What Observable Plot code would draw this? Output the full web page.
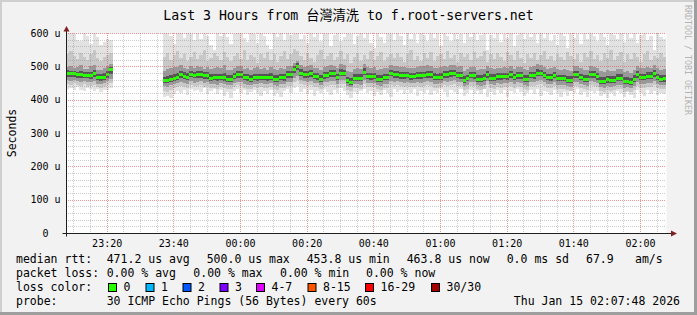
<!DOCTYPE html>
<html><head><meta charset="utf-8">
<script src="https://cdn.jsdelivr.net/npm/d3@7"></script>
<script src="https://cdn.jsdelivr.net/npm/@observablehq/plot@0.6"></script>
<style>
html,body{margin:0;padding:0;background:#f2f2f2;}
#wrap{width:697px;height:315px;}
</style>
</head><body><div id="wrap"></div>
<script>
// ---------- data (one value per minute, 180 minutes, gap = no data) ----------
const startTime = Date.UTC(2026,0,14,23,7,48);
const endTime   = Date.UTC(2026,0,15,2,7,48);
const minutes = 180;

const median = [479,479,479,476,476,475,474,474,479,467,467,469,477,491,
null,null,null,null,null,null,null,null,null,null,null,null,null,null,null,
459,459,463,466,469,476,472,469,477,474,
476,476,473,473,466,468,468,468,468,463,
463,471,476,476,468,468,463,468,468,468,
468,468,468,463,463,468,468,476,476,491,
500,481,476,476,479,471,471,463,474,474,
479,479,468,481,481,459,453.8,466,466,466,
484,471,471,471,463,463,468,468,480,476,
476,473,473,473,470,470,473,473,473,476,
476,469,469,469,476,476,480,480,474,474,
459,465,474,474,463,463,466,476,466,466,
470,470,470,470,477,468,473,473,463,463,
474,474,481,481,474,468,468,474,465,465,
465,460,460,476,476,468,463,463,476,476,
470,457,457,461,460,460,466,466,457,457,
454,463,476,468,468,472,472,479,468,463,
463.8];

const smokeMax = [612,605,598,580,577,606,592,568,603,588,563,572,581,578,
null,null,null,null,null,null,null,null,null,null,null,null,null,null,null,
615,603,590,568,610,601,585,606,597,578,
604,583,609,590,563,548,604,592,620,588,
566,598,607,611,586,574,601,596,570,606,
592,563,552,610,587,604,579,601,595,612,
605,582,594,570,603,589,616,577,596,608,
560,593,604,575,587,611,598,566,592,600,
584,607,571,555,612,588,569,603,597,578,
605,590,564,609,583,598,571,603,594,577,
612,586,599,562,604,591,575,607,583,598,
569,602,588,611,579,595,606,550,593,584,
610,573,598,586,603,562,594,608,581,597,
588,606,570,599,584,612,577,595,563,603,
590,556,609,586,597,568,604,583,611,592,
576,600,587,565,605,594,581,610,572,598,
586,603,569,595,611,578,592,548,601,588,
583];

const smokeHi2 = [538,545,530,522,541,527,519,536,548,525,516,529,533,540,
null,null,null,null,null,null,null,null,null,null,null,null,null,null,null,
528,541,519,533,546,524,537,515,529,543,
521,535,548,517,526,539,531,520,544,527,
516,532,540,523,549,518,534,527,511,538,
525,543,520,536,514,530,547,522,538,552,
545,531,519,540,526,513,535,548,521,532,
540,518,528,545,523,536,510,529,541,517,
534,522,546,519,531,543,516,527,538,524,
541,529,513,536,548,520,532,517,539,526,
544,515,530,537,521,546,524,533,512,540,
527,538,519,543,525,531,547,514,536,522,
539,528,516,542,533,520,545,524,511,537,
526,541,518,535,547,523,530,515,538,527,
519,544,532,521,536,512,540,528,546,523,
533,517,539,525,548,520,531,543,514,536,
522,540,529,513,537,545,518,532,524,539,
527];

const smokeHi1 = [497,502,494,499,505,493,491,500,503,490,488,495,501,508,
null,null,null,null,null,null,null,null,null,null,null,null,null,null,null,
486,492,495,499,497,503,494,491,500,496,
502,498,493,497,491,495,499,494,503,490,
489,496,501,500,492,494,488,495,497,493,
496,490,498,492,489,495,493,500,502,510,
515,504,499,501,503,496,494,488,499,502,
505,500,496,506,504,485,483,492,495,491,
507,498,495,497,490,493,496,494,503,500,
501,497,499,495,494,496,498,500,501,503,
500,495,494,497,502,499,505,503,498,500,
487,491,499,497,490,491,493,501,495,492,
496,494,497,495,502,493,499,497,491,490,
498,500,506,505,498,493,495,499,491,490,
492,488,487,500,501,494,490,489,501,499,
496,485,484,488,487,486,492,491,484,485,
481,490,501,494,495,497,496,503,494,490,
491];

const smokeHi0 = [488,487,486,484,485,483,482,484,488,478,477,479,486,499,
null,null,null,null,null,null,null,null,null,null,null,null,null,null,null,
469,470,473,476,479,485,482,479,487,484,
486,485,482,483,476,478,478,477,479,473,
474,480,486,485,477,478,473,478,477,478,
478,477,479,473,474,478,477,486,486,501,
510,491,486,485,489,481,480,474,483,484,
489,488,478,491,490,469,465,476,477,476,
494,481,480,481,474,473,478,477,490,486,
486,483,482,483,480,480,483,482,484,486,
486,479,478,479,486,485,490,489,484,483,
470,475,484,483,473,474,476,486,477,476,
480,479,480,480,487,478,483,482,474,473,
484,483,491,490,484,478,477,484,475,475,
475,470,470,486,485,478,473,474,486,485,
480,467,468,471,470,470,476,476,467,467,
464,473,486,478,477,482,482,489,478,473,
474];

const smokeLo0 = [468,469,468,466,465,465,464,463,468,458,457,459,466,478,
null,null,null,null,null,null,null,null,null,null,null,null,null,null,null,
450,449,453,456,458,465,461,459,467,464,
465,466,463,462,456,458,457,458,456,454,
453,461,466,465,458,457,454,458,457,459,
458,457,459,454,453,458,457,465,466,480,
489,471,466,465,469,461,460,454,463,464,
469,468,459,471,470,450,445,456,457,456,
473,461,460,461,454,453,459,458,470,465,
466,463,462,464,460,461,463,462,464,466,
465,459,458,460,466,465,469,470,464,463,
450,455,464,463,454,453,456,466,457,456,
460,459,461,460,466,459,463,462,454,453,
464,463,470,471,464,458,457,464,455,455,
455,451,450,466,465,458,454,453,466,465,
460,448,447,451,450,451,456,455,447,448,
445,453,466,458,459,462,461,469,458,454,
454];

const smokeLo1 = [458,456,459,455,452,457,454,453,456,448,446,450,455,462,
null,null,null,null,null,null,null,null,null,null,null,null,null,null,null,
441,438,444,447,449,452,450,448,455,451,
453,455,450,452,446,448,445,449,447,443,
444,450,454,453,447,445,444,448,446,449,
447,446,449,443,442,448,446,454,453,466,
472,459,455,453,457,450,449,443,452,453,
456,457,448,458,459,440,437,446,447,445,
460,450,449,451,443,442,448,447,457,453,
455,452,450,453,449,451,452,451,453,455,
453,448,447,449,455,453,457,459,452,452,
440,444,452,452,443,442,445,455,446,445,
449,448,450,449,454,448,452,451,443,442,
452,452,457,459,452,447,446,452,444,444,
444,440,439,454,453,447,443,442,455,453,
449,437,436,440,439,440,445,444,436,437,
434,442,454,447,448,451,450,457,447,443,
443];

const smokeLo2 = [447,444,449,443,440,446,442,441,445,437,435,439,443,450,
null,null,null,null,null,null,null,null,null,null,null,null,null,null,null,
425,422,430,434,437,440,438,436,443,440,
441,444,438,441,434,436,433,438,435,431,
432,439,443,441,435,433,432,437,434,438,
435,434,437,431,430,436,434,442,441,452,
458,447,443,441,445,438,437,431,440,441,
444,445,436,446,447,428,425,434,435,433,
448,438,437,439,431,430,436,435,445,441,
443,440,438,441,437,439,440,439,441,443,
441,436,435,437,443,441,445,447,440,440,
428,432,440,440,431,430,433,443,434,433,
437,436,438,437,442,436,440,439,431,430,
440,440,445,447,440,435,434,440,432,432,
432,428,427,442,441,435,431,430,443,441,
437,425,424,428,427,428,433,432,424,425,
422,430,442,435,436,439,438,445,435,431,
431];

const smokeMin = [432,436,429,438,430,425,434,431,427,433,422,428,430,436,
null,null,null,null,null,null,null,null,null,null,null,null,null,null,null,
408,412,405,418,426,421,429,414,432,427,
430,422,435,418,425,431,416,428,411,422,
406,427,433,420,428,414,424,430,419,412,
426,418,429,412,421,408,425,431,419,434,
440,423,431,416,428,410,427,419,432,424,
413,429,421,434,425,415,404,422,417,426,
431,419,427,411,424,415,428,420,409,433,
423,430,416,428,419,432,410,426,421,429,
414,427,419,431,422,408,429,424,417,432,
412,420,428,416,425,418,431,409,423,415,
428,421,430,407,426,419,433,424,412,420,
429,418,431,410,427,422,414,429,419,407,
424,412,429,420,431,413,424,408,427,419,
425,410,416,404,421,412,426,419,408,422,
415,406,429,420,411,428,417,426,413,421,
418];

// axis ticks / labels
const yTicks = [0,100,200,300,400,500,600];
const yMinor = [20,40,60,80,120,140,160,180,220,240,260,280,320,340,360,380,420,440,460,480,520,540,560,580];
const titleText = "Last 3 Hours from 台灣清洗 to f.root-servers.net";
const yLabelText = "Seconds";
const rttStats = ["471.2 us avg","500.0 us max","453.8 us min","463.8 us now","0.0 ms sd","67.9","am/s"];
const lossStats = ["0.00 % avg","0.00 % max","0.00 % min","0.00 % now"];
const lossLabels = ["0","1","2","3","4-7","8-15","16-29","30/30"];
const lossColors = ["#26ff00","#00b8ff","#0059ff","#7e00ff","#dd00ff","#ff5500","#ff0000","#a10000"];
const probeText = "30 ICMP Echo Pings (56 Bytes) every 60s";
const dateText = "Thu Jan 15 02:07:48 2026";
const watermark = "RRDTOOL / TOBI OETIKER";

// ---------- build rows ----------
const rows = [];
for (let i = 0; i < minutes; i++) {
  if (median[i] == null) continue;
  rows.push({
    t0: new Date(startTime + i*60000), t1: new Date(startTime + (i+1)*60000),
    med: median[i], max: smokeMax[i], hi2: smokeHi2[i], hi1: smokeHi1[i], hi0: smokeHi0[i],
    lo0: smokeLo0[i], lo1: smokeLo1[i], lo2: smokeLo2[i], min: smokeMin[i]
  });
}
const xMajor = d3.utcMinute.every(20).range(new Date(startTime), new Date(endTime));
const xMinor = d3.utcMinute.every(5).range(new Date(startTime), new Date(endTime)).filter(d => d.getUTCMinutes() % 20 !== 0);

const FONT = '"DejaVu Sans Mono","Noto Sans CJK TC",monospace';
const rectOpts = {x1:"t0", x2:"t1", clip:true, shapeRendering:"crispEdges"};
const gridOpts = {strokeDasharray:"1,1", shapeRendering:"crispEdges"};

const chart = Plot.plot({
  width: 697, height: 315,
  marginLeft: 66, marginRight: 31, marginTop: 33, marginBottom: 82,
  style: {background:"#f2f2f2", fontFamily: FONT, fontSize:"10px", color:"#000", overflow:"visible"},
  x: {type:"utc", domain:[new Date(startTime), new Date(endTime)], label:null},
  y: {domain:[0,600], label:null},
  marks: [
    Plot.frame({fill:"white", stroke:null}),
    Plot.rect(rows, {...rectOpts, y1:"min", y2:"max", fill:"#e2e2e2"}),
    Plot.rect(rows, {...rectOpts, y1:"lo2", y2:"hi2", fill:"#c8c8c8"}),
    Plot.rect(rows, {...rectOpts, y1:"lo1", y2:"hi1", fill:"#999999"}),
    Plot.rect(rows, {...rectOpts, y1:"lo0", y2:"hi0", fill:"#555555"}),
    Plot.ruleY(rows, {x1:"t0", x2:"t1", y:"med", stroke:"#26ff00", strokeWidth:3, shapeRendering:"crispEdges"}),
    Plot.ruleY(yMinor, {...gridOpts, stroke:"#8f8f8f", strokeOpacity:0.45}),
    Plot.ruleX(xMinor, {...gridOpts, stroke:"#8f8f8f", strokeOpacity:0.45}),
    Plot.ruleY(yTicks.filter(d => d > 0), {...gridOpts, stroke:"#de5050", strokeOpacity:0.6}),
    Plot.ruleX(xMajor, {...gridOpts, stroke:"#de5050", strokeOpacity:0.6}),
    Plot.axisY({ticks: yTicks, tickSize:0, tickPadding:6, tickFormat: d => d === 0 ? "0  " : `${d} u`, fontSize:10}),
    Plot.axisX({ticks: xMajor, tickSize:0, tickPadding:6, tickFormat: d3.utcFormat("%H:%M"), fontSize:10})
  ]
});
document.getElementById("wrap").appendChild(chart);

// ---------- decorations: axes lines, arrows, texts, bevel ----------
const svg = d3.select(chart);
const X = chart.scale("x"), Y = chart.scale("y");
const px0 = X.apply(new Date(startTime)), px1 = X.apply(new Date(endTime));
const py0 = Y.apply(0), py1 = Y.apply(600);
const W = 697, H = 315;

// bevel frame
svg.append("rect").attr("x",0).attr("y",0).attr("width",W).attr("height",2).attr("fill","#cfcfcf");
svg.append("rect").attr("x",0).attr("y",0).attr("width",2).attr("height",H).attr("fill","#cfcfcf");
svg.append("rect").attr("x",0).attr("y",H-3).attr("width",W).attr("height",3).attr("fill","#9e9e9e");
svg.append("rect").attr("x",W-3).attr("y",0).attr("width",3).attr("height",H).attr("fill","#9e9e9e");

// axis lines
const ax = Math.round(px0) + 0.5, ay = Math.round(py0) + 0.5;
svg.append("line").attr("x1", ax-4).attr("x2", px1+6).attr("y1", ay).attr("y2", ay).attr("stroke","#1f1f1f");
svg.append("line").attr("x1", ax).attr("x2", ax).attr("y1", ay+3).attr("y2", py1-3).attr("stroke","#1f1f1f");
// arrows
svg.append("path").attr("d", `M${ax-3},${py1-1.5}L${ax+3},${py1-1.5}L${ax},${py1-7}Z`).attr("fill","#7f1f1f");
svg.append("path").attr("d", `M${px1+5},${ay-3}L${px1+5},${ay+3}L${px1+11},${ay}Z`).attr("fill","#7f1f1f");

// texts
const T = (x, y, s, size, anchor="start", fill="#000") =>
  svg.append("text").attr("x", x).attr("y", y).attr("font-size", size).attr("text-anchor", anchor)
     .attr("fill", fill).attr("font-family", FONT).style("white-space","pre").text(s);

T(W/2, 20, titleText, 13.2, "middle");
svg.append("text").attr("transform", `translate(15.5,${(py0+py1)/2}) rotate(-90)`)
   .attr("text-anchor","middle").attr("font-size",11.5).attr("font-family",FONT).text(yLabelText);
svg.append("text").attr("transform", `translate(685,5) rotate(90)`)
   .attr("text-anchor","start").attr("font-size",8.3).attr("fill","#b4b4b4").attr("font-family",FONT).text(watermark);

const LF = 11.5;
T(16, 263, "median rtt:", LF);
[106.7, 206.7, 306.7, 406.7, 506.7, 586, 635].forEach((x, i) => T(x, 263, rttStats[i], LF));
T(16, 277, "packet loss:", LF);
[106.7, 193.3, 280, 366].forEach((x, i) => T(x, 277, lossStats[i], LF));
T(16, 291, "loss color:", LF);
[108, 145.5, 182.5, 219.5, 256, 307.5, 365, 431].forEach((x, i) => {
  svg.append("rect").attr("x", x+0.5).attr("y", 283.5).attr("width", 8).attr("height", 8)
     .attr("fill", lossColors[i]).attr("stroke","#000").attr("stroke-width",1);
  T(x + 15.5, 291, lossLabels[i], LF);
});
T(16, 305, "probe:", LF);
T(106.7, 305, probeText, LF);
T(680, 305, dateText, LF, "end");
</script>
</body></html>
